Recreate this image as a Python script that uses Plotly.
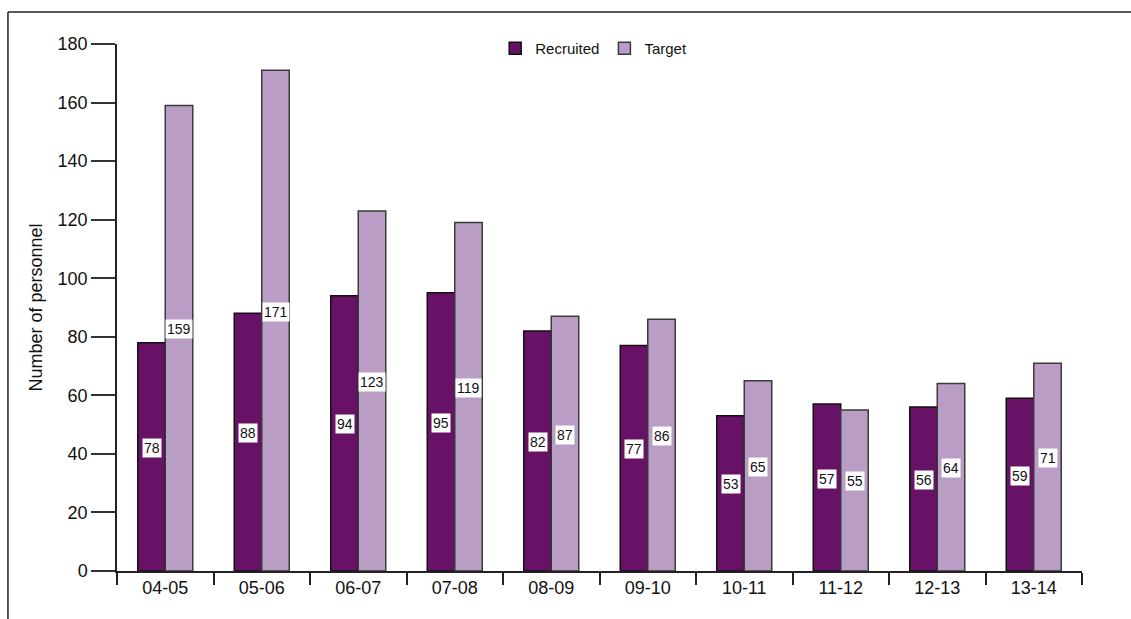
import plotly.graph_objects as go

categories = ["04-05", "05-06", "06-07", "07-08", "08-09", "09-10", "10-11", "11-12", "12-13", "13-14"]
recruited = [78, 88, 94, 95, 82, 77, 53, 57, 56, 59]
target = [159, 171, 123, 119, 87, 86, 65, 55, 64, 71]

DARK = "#681267"
LIGHT = "#b99dc4"
FONT = "Liberation Sans, Arial, sans-serif"

fig = go.Figure()
fig.add_trace(go.Bar(name="Recruited", x=categories, y=recruited,
                     marker=dict(color=DARK, line=dict(color="#111111", width=1.5))))
fig.add_trace(go.Bar(name="Target", x=categories, y=target,
                     marker=dict(color=LIGHT, line=dict(color="#3a3a3a", width=1.5))))

annotations = []
for cat, r, t in zip(categories, recruited, target):
    for val, shift in ((r, -13.75), (t, 13.75)):
        annotations.append(dict(x=cat, y=val / 2, text=str(val), showarrow=False,
                                xshift=shift, yshift=9, bgcolor="white",
                                font=dict(family=FONT, size=14, color="#111111"),
                                borderpad=1))

fig.update_layout(
    width=1131, height=619,
    margin=dict(l=117, r=49, t=44, b=48),
    paper_bgcolor="white", plot_bgcolor="white",
    barmode="group", bargap=0.43, bargroupgap=0,
    font=dict(family=FONT, color="#111111"),
    legend=dict(orientation="h", x=0.494, xanchor="center", y=1.023, yanchor="top",
                font=dict(size=15, family=FONT), bgcolor="rgba(0,0,0,0)",
                traceorder="normal"),
    annotations=annotations,
    xaxis=dict(type="category", showline=True, linecolor="#222222", linewidth=1.5,
               ticks="outside", ticklen=12, tickcolor="#222222", tickwidth=1.5,
               tickson="boundaries", tickfont=dict(size=18, family=FONT),
               showgrid=False),
    yaxis=dict(range=[0, 180], dtick=20, showline=True, linecolor="#222222", linewidth=1.5,
               ticks="outside", ticklen=24, tickcolor="#333333", tickwidth=1.5,
               tickfont=dict(size=18, family=FONT), showgrid=False, zeroline=False,
               title=dict(text="Number of personnel", font=dict(size=18, family=FONT), standoff=10)),
    shapes=[
        dict(type="line", xref="paper", yref="paper", x0=-0.113, x1=1.1, y0=1.0607, y1=1.0607,
             line=dict(color="#222222", width=1.5)),
        dict(type="line", xref="paper", yref="paper", x0=-0.113, x1=-0.113, y0=1.0607, y1=-0.2,
             line=dict(color="#222222", width=1.5)),
    ],
)

fig.write_html("out.html")
